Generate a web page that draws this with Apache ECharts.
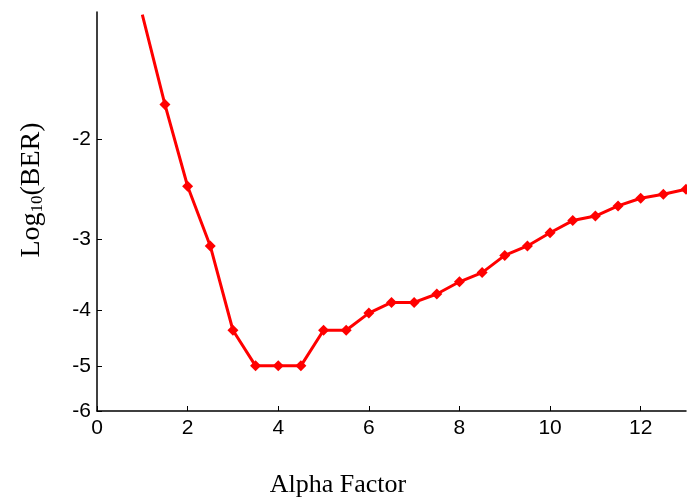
<!DOCTYPE html>
<html>
<head>
<meta charset="utf-8">
<script src="https://cdn.jsdelivr.net/npm/echarts@6/dist/echarts.min.js"></script>
<style>
  html, body { margin: 0; padding: 0; background: #fff; }
  #chart { width: 687px; height: 497px; }
</style>
</head>
<body>
<div id="chart"></div>
<script>
// Bit error rate (log10) against the alpha factor
const alpha = [1, 1.5, 2, 2.5, 3, 3.5, 4, 4.5, 5, 5.5, 6, 6.5, 7, 7.5, 8, 8.5, 9, 9.5, 10, 10.5, 11, 11.5, 12, 12.5, 13];
const logBer = [-1.21, -1.74, -2.42, -3.08, -4.33, -5.0, -5.0, -5.0, -4.33, -4.33, -4.04, -3.87, -3.87, -3.74, -3.56, -3.43, -3.20, -3.08, -2.92, -2.78, -2.73, -2.62, -2.54, -2.50, -2.45];
const yTickLabels = [-2, -3, -4, -5, -6];
const xTickLabels = [0, 2, 4, 6, 8, 10, 12];

// The vertical axis is logarithmic in the magnitude of log10(BER)
const yMagnitudes = yTickLabels.map(v => -v);
const seriesData = alpha.map((a, i) => {
  const item = { value: [a, -logBer[i]] };
  if (i === 0) item.symbol = 'none';
  return item;
});

const chart = echarts.init(document.getElementById('chart'), null, { renderer: 'canvas' });
chart.setOption({
  animation: false,
  backgroundColor: '#ffffff',
  grid: { left: 97, right: 1, top: 12, bottom: 86, containLabel: false },
  xAxis: {
    type: 'value',
    min: 0,
    max: 13,
    interval: 2,
    splitLine: { show: false },
    axisLine: { show: true, onZero: false, lineStyle: { color: '#000', width: 1.5 } },
    axisTick: { show: true, inside: true, length: 5, lineStyle: { color: '#000', width: 1 },
                customValues: xTickLabels },
    axisLabel: { customValues: xTickLabels, color: '#000', fontFamily: 'Liberation Sans, Arial, sans-serif',
                 fontSize: 21, margin: 7 }
  },
  yAxis: {
    type: 'log',
    logBase: 10,
    inverse: true,
    min: 1.197,
    max: 6,
    splitLine: { show: false },
    axisLine: { show: true, lineStyle: { color: '#000', width: 1.5 } },
    axisTick: { show: true, inside: true, length: 5, lineStyle: { color: '#000', width: 1 },
                customValues: yMagnitudes },
    axisLabel: { customValues: yMagnitudes, color: '#000', fontFamily: 'Liberation Sans, Arial, sans-serif',
                 fontSize: 21, margin: 6,
                 formatter: v => String(-Math.round(v)) }
  },
  graphic: [
    {
      type: 'text',
      x: 32, y: 190,
      rotation: Math.PI / 2,
      style: {
        text: '{m|Log}{s|10}{m|(BER)}',
        align: 'center',
        verticalAlign: 'middle',
        fill: '#000',
        rich: {
          m: { fontFamily: 'Liberation Serif, Times New Roman, serif', fontSize: 28, fill: '#000' },
          s: { fontFamily: 'Liberation Serif, Times New Roman, serif', fontSize: 17, fill: '#000',
               verticalAlign: 'bottom', padding: [12, 0, 0, 0] }
        }
      }
    },
    {
      type: 'text',
      x: 338, y: 485,
      style: {
        text: 'Alpha Factor',
        align: 'center',
        verticalAlign: 'middle',
        fill: '#000',
        font: '26px "Liberation Serif", "Times New Roman", serif'
      }
    }
  ],
  series: [{
    type: 'line',
    data: seriesData,
    clip: true,
    symbol: 'diamond',
    symbolSize: 11,
    lineStyle: { color: '#ff0000', width: 3 },
    itemStyle: { color: '#ff0000' }
  }]
});
</script>
</body>
</html>
